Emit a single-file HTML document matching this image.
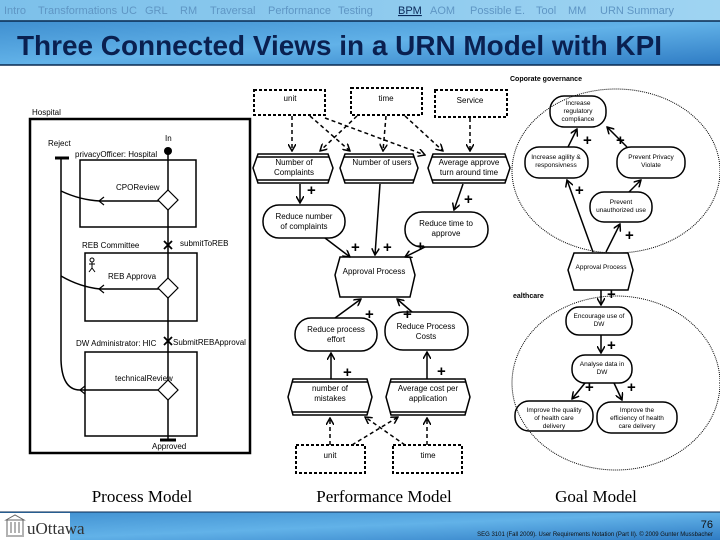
<!DOCTYPE html>
<html><head><meta charset="utf-8"><style>
body{margin:0;width:720px;height:540px;overflow:hidden;background:#fff;font-family:"Liberation Sans",sans-serif}
svg{display:block}
</style></head><body>
<svg width="720" height="540" viewBox="0 0 720 540" xmlns="http://www.w3.org/2000/svg" font-family="Liberation Sans, sans-serif">
<defs>
<linearGradient id="hd" x1="0" y1="0" x2="1" y2="1"><stop offset="0" stop-color="#3f8fd0"/><stop offset="0.5" stop-color="#62b2e8"/><stop offset="1" stop-color="#2f7cc4"/></linearGradient>
<linearGradient id="nv" x1="0" y1="0" x2="1" y2="0"><stop offset="0" stop-color="#7cc0ea"/><stop offset="1" stop-color="#9fd4f2"/></linearGradient>
<marker id="a" markerWidth="8" markerHeight="8" refX="7" refY="4" orient="auto" markerUnits="userSpaceOnUse"><path d="M0,0 L7,4 L0,8" fill="none" stroke="#000" stroke-width="1.5"/></marker>
</defs>
<!-- header -->
<rect x="0" y="0" width="720" height="21" fill="url(#nv)"/>
<text y="14" font-size="11" fill="#5f96c4"><tspan x="4">Intro</tspan><tspan x="38">Transformations</tspan><tspan x="121">UC</tspan><tspan x="145">GRL</tspan><tspan x="180">RM</tspan><tspan x="210">Traversal</tspan><tspan x="268">Performance</tspan><tspan x="338">Testing</tspan></text>
<text x="398" y="14" font-size="11" fill="#0a2a5a" text-decoration="underline">BPM</text>
<text y="14" font-size="11" fill="#5f96c4"><tspan x="430">AOM</tspan><tspan x="470">Possible E.</tspan><tspan x="536">Tool</tspan><tspan x="568">MM</tspan><tspan x="600">URN Summary</tspan></text>
<rect x="0" y="21" width="720" height="44" fill="url(#hd)"/>
<line x1="0" y1="21" x2="720" y2="21" stroke="#0a2a50" stroke-width="1.5"/>
<line x1="0" y1="65" x2="720" y2="65" stroke="#0a2a50" stroke-width="1.5"/>
<text x="17" y="55" font-size="28" font-weight="bold" fill="#0a2050" textLength="645" lengthAdjust="spacingAndGlyphs">Three Connected Views in a URN Model with KPI</text>

<!-- Process model -->
<g font-size="8" fill="#000" stroke="none">
<text x="32" y="115">Hospital</text>
<text x="48" y="146">Reject</text>
<text x="165" y="141">In</text>
<text x="75" y="157">privacyOfficer: Hospital</text>
<text x="116" y="190">CPOReview</text>
<text x="82" y="248">REB Committee</text>
<text x="180" y="246">submitToREB</text>
<text x="108" y="279">REB Approva</text>
<text x="76" y="346">DW Administrator: HIC</text>
<text x="173" y="345">SubmitREBApproval</text>
<text x="115" y="381">technicalReview</text>
<text x="152" y="449">Approved</text>
</g>
<g fill="none" stroke="#000">
<rect x="30" y="119" width="220" height="334" stroke-width="2.5"/>
<rect x="80" y="160" width="116" height="67" stroke-width="1.5"/>
<rect x="85" y="253" width="112" height="68" stroke-width="1.5"/>
<rect x="85" y="352" width="112" height="84" stroke-width="1.5"/>
<path d="M168,151 L168,440" stroke-width="1.5"/>
<path d="M160,440 L176,440" stroke-width="3"/>
<path d="M55,158 L69,158" stroke-width="3"/>
<path d="M61,158 L61,360 Q62,390 80,390" stroke-width="1.5"/>
<path d="M61,191 Q80,200 100,201 L160,201" stroke-width="1.5"/>
<path d="M61,276 Q80,287 100,289 L160,289" stroke-width="1.5"/>
<path d="M80,390 L160,390" stroke-width="1.5"/>
<path d="M104,197 L99,201 L104,205 M104,285 L99,289 L104,293 M85,386 L80,390 L85,394" stroke-width="1.2"/>
<path d="M168,190 L178,200 L168,210 L158,200 Z M168,278 L178,288 L168,298 L158,288 Z M168,380 L178,390 L168,400 L158,390 Z" fill="#fff" stroke-width="1.2"/>
<path d="M164,241 L172,249 M172,241 L164,249 M164,337 L172,345 M172,337 L164,345" stroke-width="1.8"/>
<circle cx="92" cy="260" r="2" stroke-width="1"/><path d="M92,262 L92,268 M89,264 L95,264 M92,268 L89,272 M92,268 L95,272" stroke-width="1"/>
</g>
<circle cx="168" cy="151" r="4" fill="#000"/>

<!-- Performance model -->
<g fill="none" stroke="#000" stroke-width="2" stroke-dasharray="3,2">
<rect x="254" y="90" width="71" height="25"/>
<rect x="351" y="88" width="71" height="27"/>
<rect x="435" y="90" width="72" height="27"/>
<rect x="296" y="445" width="69" height="28"/>
<rect x="393" y="445" width="69" height="28"/>
</g>
<g fill="none" stroke="#000" stroke-width="1.5" stroke-dasharray="4,3">
<path d="M292,116 L292,151" marker-end="url(#a)"/>
<path d="M310,116 L350,151" marker-end="url(#a)"/>
<path d="M325,118 L425,155" marker-end="url(#a)"/>
<path d="M357,116 L320,151" marker-end="url(#a)"/>
<path d="M386,116 L383,151" marker-end="url(#a)"/>
<path d="M405,116 L443,151" marker-end="url(#a)"/>
<path d="M470,118 L470,151" marker-end="url(#a)"/>
<path d="M330,445 L330,418" marker-end="url(#a)"/>
<path d="M352,445 L398,417" marker-end="url(#a)"/>
<path d="M405,445 L365,417" marker-end="url(#a)"/>
<path d="M427,445 L427,418" marker-end="url(#a)"/>
</g>
<g fill="#fff" stroke="#000" stroke-width="1.5">
<path d="M258,154 L328,154 L333,168 L328,183 L258,183 L253,168 Z"/>
<path d="M345,154 L413,154 L418,168 L413,183 L345,183 L340,168 Z"/>
<path d="M433,154 L505,154 L510,168 L505,183 L433,183 L428,168 Z"/>
<path d="M293,379 L367,379 L372,397 L367,415 L293,415 L288,397 Z"/>
<path d="M391,379 L465,379 L470,397 L465,415 L391,415 L386,397 Z"/>
<path d="M340,257 L410,257 L415,275 L410,297 L340,297 L335,275 Z"/>
<path d="M574,253 L628,253 L633,270 L628,290 L574,290 L568,270 Z"/>
</g>
<g stroke="#000" stroke-width="1.5">
<path d="M257,157 L329,157 M257,180 L329,180 M344,157 L414,157 M344,180 L414,180 M432,157 L506,157 M432,180 L506,180 M292,382 L368,382 M292,412 L368,412 M390,382 L466,382 M390,412 L466,412"/>
</g>
<g fill="#fff" stroke="#000" stroke-width="1.5">
<rect x="263" y="205" width="82" height="33" rx="16"/>
<rect x="405" y="212" width="83" height="35" rx="17"/>
<rect x="295" y="318" width="82" height="33" rx="16"/>
<rect x="385" y="312" width="83" height="38" rx="18"/>
<rect x="550" y="96" width="56" height="31" rx="14"/>
<rect x="525" y="147" width="63" height="31" rx="14"/>
<rect x="617" y="147" width="68" height="31" rx="14"/>
<rect x="590" y="192" width="62" height="30" rx="14"/>
<rect x="566" y="307" width="66" height="28" rx="13"/>
<rect x="572" y="355" width="60" height="28" rx="13"/>
<rect x="515" y="401" width="78" height="30" rx="14"/>
<rect x="597" y="402" width="80" height="31" rx="14"/>
</g>
<g fill="none" stroke="#000" stroke-width="1.5">
<path d="M300,184 L300,203" marker-end="url(#a)"/>
<path d="M380,184 L375,255" marker-end="url(#a)"/>
<path d="M463,184 L454,210" marker-end="url(#a)"/>
<path d="M325,238 L350,257" marker-end="url(#a)"/>
<path d="M425,247 L405,257" marker-end="url(#a)"/>
<path d="M335,318 L361,299" marker-end="url(#a)"/>
<path d="M412,312 L397,299" marker-end="url(#a)"/>
<path d="M331,379 L331,353" marker-end="url(#a)"/>
<path d="M427,379 L427,352" marker-end="url(#a)"/>
<path d="M593,252 L567,180" marker-end="url(#a)"/>
<path d="M606,252 L620,224" marker-end="url(#a)"/>
<path d="M568,147 L577,129" marker-end="url(#a)"/>
<path d="M629,192 L641,180" marker-end="url(#a)"/>
<path d="M627,147 L607,127" marker-end="url(#a)"/>
<path d="M601,290 L601,305" marker-end="url(#a)"/>
<path d="M601,335 L601,353" marker-end="url(#a)"/>
<path d="M585,383 L572,399" marker-end="url(#a)"/>
<path d="M614,383 L622,400" marker-end="url(#a)"/>
</g>
<g font-size="15" font-weight="bold" fill="#000">
<text x="307" y="195">+</text><text x="464" y="204">+</text>
<text x="351" y="252">+</text><text x="383" y="252">+</text><text x="416" y="251">+</text>
<text x="365" y="319">+</text><text x="403" y="319">+</text>
<text x="343" y="377">+</text><text x="437" y="376">+</text>
<text x="583" y="145">+</text><text x="616" y="145">+</text><text x="575" y="195">+</text><text x="625" y="240">+</text>
<text x="607" y="299">+</text><text x="607" y="350">+</text><text x="585" y="392">+</text><text x="627" y="392">+</text>
</g>
<g font-size="8" fill="#000" text-anchor="middle">
<text x="290" y="101">unit</text><text x="386" y="101">time</text><text x="470" y="103">Service</text>
<text x="294" y="165">Number of</text><text x="294" y="175">Complaints</text>
<text x="382" y="165">Number of users</text>
<text x="469" y="165">Average approve</text><text x="469" y="175">turn around time</text>
<text x="304" y="219">Reduce number</text><text x="304" y="229">of complaints</text>
<text x="446" y="226">Reduce time to</text><text x="446" y="236">approve</text>
<text x="374" y="274">Approval Process</text>
<text x="336" y="332">Reduce process</text><text x="336" y="342">effort</text>
<text x="426" y="329">Reduce Process</text><text x="426" y="339">Costs</text>
<text x="330" y="391">number of</text><text x="330" y="401">mistakes</text>
<text x="428" y="391">Average cost per</text><text x="428" y="401">application</text>
<text x="330" y="458">unit</text><text x="428" y="458">time</text>
</g>

<!-- Goal model -->
<text x="510" y="81" font-size="7" font-weight="bold">Coporate governance</text>
<text x="513" y="298" font-size="7" font-weight="bold">ealthcare</text>
<ellipse cx="616" cy="171" rx="104" ry="82" fill="none" stroke="#000" stroke-width="1" stroke-dasharray="1,1"/>
<ellipse cx="616" cy="383" rx="104" ry="87" fill="none" stroke="#000" stroke-width="1" stroke-dasharray="1,1"/>
<g font-size="6.5" fill="#000" text-anchor="middle">
<text x="578" y="105">Increase</text><text x="578" y="113">regulatory</text><text x="578" y="121">compliance</text>
<text x="556" y="159">Increase agility &amp;</text><text x="556" y="167">responsivness</text>
<text x="651" y="159">Prevent Privacy</text><text x="651" y="167">Violate</text>
<text x="621" y="204">Prevent</text><text x="621" y="212">unauthorized use</text>
<text x="601" y="269">Approval Process</text>
<text x="599" y="318">Encourage use of</text><text x="599" y="326">DW</text>
<text x="602" y="366">Analyse data in</text><text x="602" y="374">DW</text>
<text x="554" y="412">Improve the quality</text><text x="554" y="420">of health care</text><text x="554" y="428">delivery</text>
<text x="637" y="412">Improve the</text><text x="637" y="420">efficiency of health</text><text x="637" y="428">care delivery</text>
</g>

<!-- captions -->
<g font-family="Liberation Serif, serif" font-size="17" fill="#000" text-anchor="middle">
<text x="142" y="502">Process Model</text>
<text x="384" y="502">Performance Model</text>
<text x="596" y="502">Goal Model</text>
</g>

<!-- footer -->
<rect x="0" y="512" width="720" height="28" fill="url(#hd)"/>
<line x1="0" y1="512" x2="720" y2="512" stroke="#0a2a50" stroke-width="1"/>
<rect x="0" y="513" width="70" height="27" fill="#fff"/>
<g fill="none" stroke="#666" stroke-width="1"><path d="M6,520 L15,515 L24,520 Z M7,520 L7,535 M23,520 L23,535 M6,536 L24,536 M11,522 L11,533 M15,522 L15,533 M19,522 L19,533"/></g>
<text x="27" y="534" font-family="Liberation Serif, serif" font-size="17" fill="#333">uOttawa</text>
<text x="713" y="528" font-size="11" fill="#111" text-anchor="end">76</text>
<text x="713" y="536" font-size="6" fill="#111" text-anchor="end">SEG 3101 (Fall 2009).   User Requirements Notation (Part II).   © 2009 Gunter Mussbacher</text>
</svg>
</body></html>
